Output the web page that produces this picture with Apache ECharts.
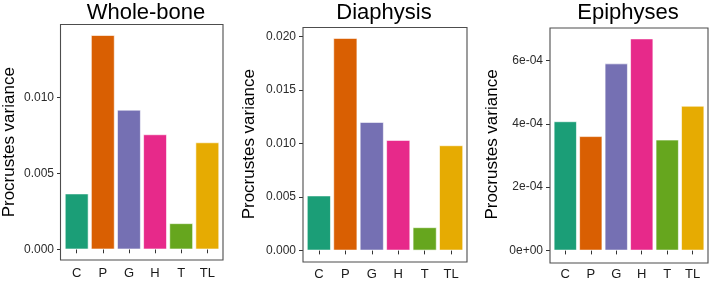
<!DOCTYPE html>
<html>
<head>
<meta charset="utf-8">
<script src="https://cdn.jsdelivr.net/npm/echarts@6/dist/echarts.min.js"></script>
<style>html,body{margin:0;padding:0;background:#fff}#c{width:709px;height:281px}</style>
</head>
<body>
<div id="c"></div>
<script>
const categories = ['C', 'P', 'G', 'H', 'T', 'TL'];
const colors = ['#1B9E77', '#D95F02', '#7570B3', '#E7298A', '#66A61E', '#E6AB02'];
const titles = ['Whole-bone', 'Diaphysis', 'Epiphyses'];
const wholeBone = [0.00367, 0.01411, 0.00919, 0.00757, 0.00171, 0.00704];
const diaphysis = [0.00512, 0.01984, 0.01199, 0.01031, 0.00215, 0.00981];
const epiphyses = [0.000408, 0.000361, 0.000591, 0.000670, 0.000350, 0.000457];
const ticks1 = [0, 0.005, 0.010];
const tickLabels1 = ['0.000', '0.005', '0.010'];
const ticks2 = [0, 0.005, 0.010, 0.015, 0.020];
const tickLabels2 = ['0.000', '0.005', '0.010', '0.015', '0.020'];
const ticks3 = [0, 0.0002, 0.0004, 0.0006];
const tickLabels3 = ['0e+00', '2e-04', '4e-04', '6e-04'];
const yName = 'Procrustes variance';

const panels = [
  {data: wholeBone, ticks: ticks1, labels: tickLabels1, fl: 60.5, fr: 223, ft: 24.5, fb: 260, nameGap: 43, tx: 146},
  {data: diaphysis, ticks: ticks2, labels: tickLabels2, fl: 303, fr: 467, ft: 27.5, fb: 262, nameGap: 45.5, tx: 384},
  {data: epiphyses, ticks: ticks3, labels: tickLabels3, fl: 550, fr: 708, ft: 28, fb: 263, nameGap: 49.5, tx: 628}
];

const grids = [], xAxes = [], yAxes = [], series = [], graphics = [];
const font = 'Liberation Sans, Arial, Helvetica, sans-serif';

panels.forEach((p, i) => {
  const w = p.fr - p.fl;
  const inset = w * 0.1 / 6.2;
  const maxV = Math.max(...p.data);
  const ex = maxV * 0.05;
  grids.push({left: p.fl + inset, width: w - 2 * inset, top: p.ft, height: p.fb - p.ft, show: false});
  xAxes.push({
    type: 'category', gridIndex: i, data: categories,
    axisLine: {show: false},
    axisTick: {show: true, alignWithLabel: true, length: 4, lineStyle: {color: '#333', width: 1}},
    axisLabel: {color: '#1a1a1a', fontSize: 13, fontFamily: font, margin: 7}
  });
  yAxes.push({
    type: 'value', gridIndex: i, min: -ex, max: maxV + ex,
    offset: inset,
    name: yName, nameLocation: 'middle', nameGap: p.nameGap, nameRotate: 90,
    nameTextStyle: {fontSize: 17, fontFamily: font, color: '#000'},
    splitLine: {show: false},
    axisLine: {show: false},
    axisTick: {show: true, length: 4, customValues: p.ticks, lineStyle: {color: '#333', width: 1}},
    axisLabel: {
      customValues: p.ticks, fontSize: 12, fontFamily: font, color: '#2b2b2b', margin: 7,
      formatter: (v) => { const k = p.ticks.findIndex(t => Math.abs(t - v) < 1e-12); return k >= 0 ? p.labels[k] : ''; }
    }
  });
  series.push({
    type: 'bar', xAxisIndex: i, yAxisIndex: i, barCategoryGap: '10%',
    data: p.data.map((v, k) => ({value: v, itemStyle: {color: colors[k]}})),
    itemStyle: {borderColor: '#fff', borderWidth: 0.6},
    animation: false
  });
  graphics.push({
    type: 'rect', shape: {x: p.fl, y: p.ft, width: w, height: p.fb - p.ft},
    style: {fill: 'none', stroke: '#4d4d4d', lineWidth: 1.1}, z: 100
  });
  graphics.push({
    type: 'text', x: p.tx, y: 13,
    style: {text: titles[i], fontSize: 22, fontFamily: font, fill: '#000', textAlign: 'center', textVerticalAlign: 'middle'}
  });
});

const chart = echarts.init(document.getElementById('c'), null, {renderer: 'canvas'});
chart.setOption({
  animation: false,
  grid: grids, xAxis: xAxes, yAxis: yAxes, series: series, graphic: graphics
});
</script>
</body>
</html>
